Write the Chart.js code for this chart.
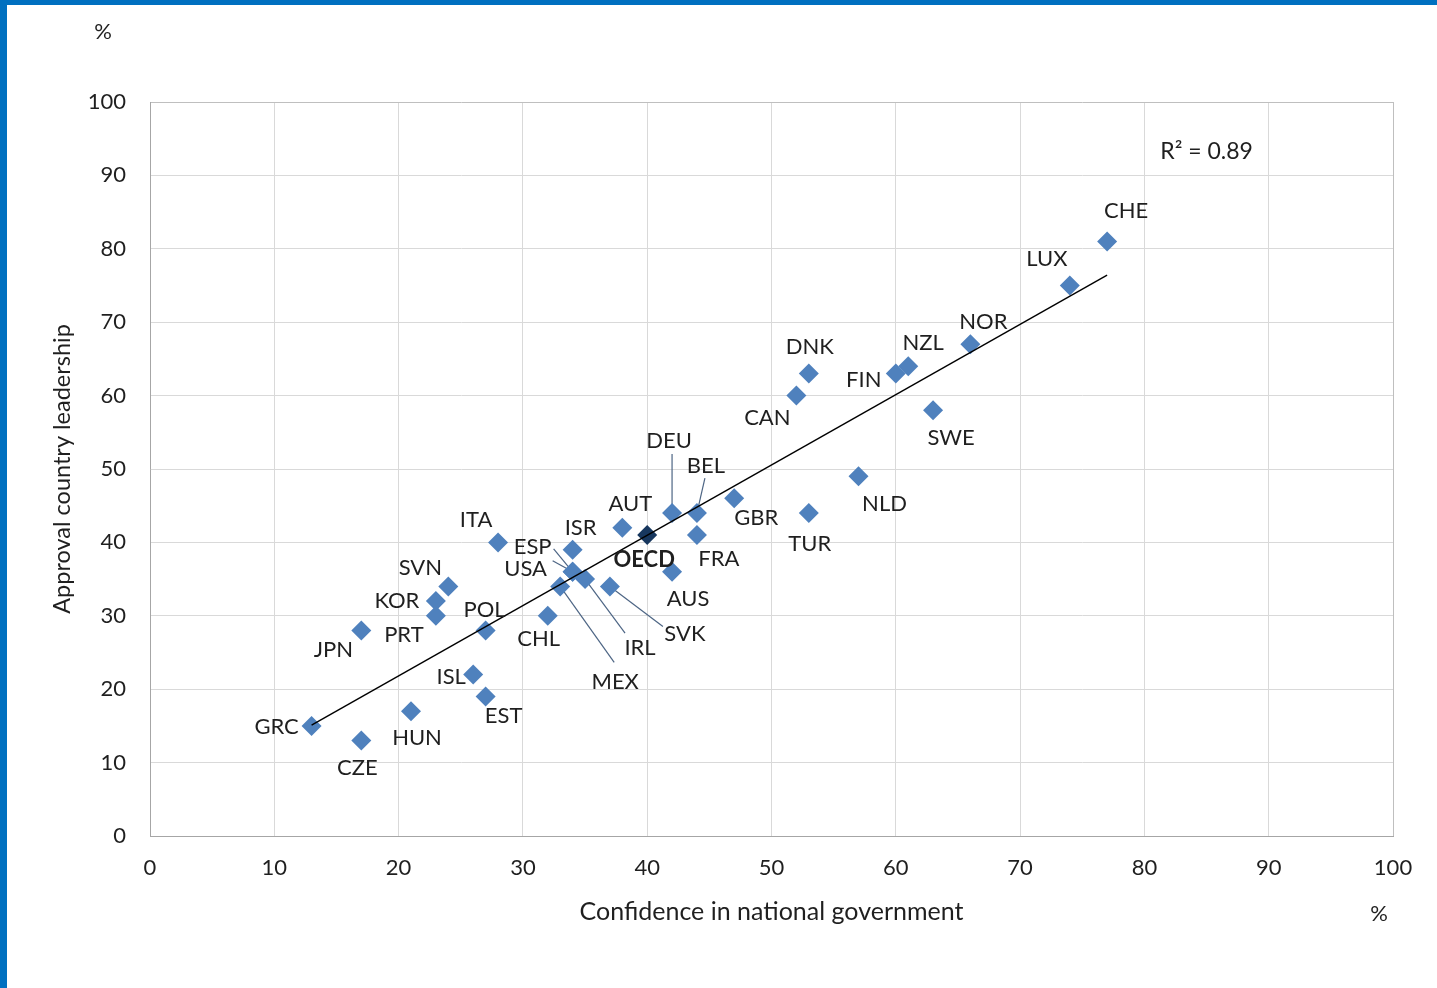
<!DOCTYPE html>
<html>
<head>
<meta charset="utf-8">
<script src="https://cdn.jsdelivr.net/npm/chart.js@4.4.0/dist/chart.umd.min.js"></script>
<style>
  html, body { margin: 0; padding: 0; background: #fff; }
  #wrap { position: relative; width: 1437px; height: 988px; }
  #frameLeft { position: absolute; left: 0; top: 0; width: 7px; height: 988px; background: #0070C0; }
  #frameTop { position: absolute; left: 0; top: 0; width: 1437px; height: 5px; background: #0070C0; }
</style>
</head>
<body>
<div id="wrap">
  <canvas id="myChart" width="1437" height="988"></canvas>
  <div id="frameLeft"></div>
  <div id="frameTop"></div>
</div>
<script>
// values
const countries = ['GRC', 'CZE', 'HUN', 'JPN', 'PRT', 'KOR', 'SVN', 'POL', 'ISL', 'EST',
                   'ITA', 'CHL', 'MEX', 'USA', 'ESP', 'IRL', 'SVK', 'ISR', 'AUT', 'AUS',
                   'DEU', 'BEL', 'FRA', 'GBR', 'TUR', 'CAN', 'DNK', 'FIN', 'NZL', 'NOR',
                   'SWE', 'NLD', 'LUX', 'CHE'];
const confidence = [13, 17, 21, 17, 23, 23, 24, 27, 26, 27,
                    28, 32, 33, 34, 34, 35, 37, 34, 38, 42,
                    42, 44, 44, 47, 53, 52, 53, 60, 61, 66,
                    63, 57, 74, 77];
const approval = [15, 13, 17, 28, 30, 32, 34, 28, 22, 19,
                  40, 30, 34, 36, 36, 35, 34, 39, 42, 36,
                  44, 44, 41, 46, 44, 60, 63, 63, 64, 67,
                  58, 49, 75, 81];
const oecdName = 'OECD';
const oecdX = [40];
const oecdY = [41];
// fitted line, ends as drawn in the picture
const trendX = [13, 77];
const trendY = [15.1, 76.4];
const r2Text = 'R\u00B2 = 0.89';
const axisTicks = [0, 10, 20, 30, 40, 50, 60, 70, 80, 90, 100];

// label placement (pixels from the marker centre)
const labelOffset = {
  GRC: [-35, 1], CZE: [-4, 27], HUN: [6, 27], JPN: [-28, 19], PRT: [-32, 19],
  KOR: [-39, 0], SVN: [-28, -19], POL: [-1, -21], ISL: [-22, 2], EST: [18, 19],
  ITA: [-22, -22], CHL: [-9, 23], MEX: [55, 95], USA: [-47, -3], ESP: [-40, -25],
  IRL: [55, 69], SVK: [75, 47], ISR: [8, -22], AUT: [8, -24], AUS: [16, 27],
  DEU: [-3, -72], BEL: [9, -47], FRA: [22, 24], GBR: [22, 20], TUR: [1, 31],
  CAN: [-29, 22], DNK: [1, -27], FIN: [-32, 6], NZL: [15, -23], NOR: [13, -22],
  SWE: [18, 28], NLD: [26, 28], LUX: [-23, -27], CHE: [19, -31]
};
const leaderStart = {
  ESP: [-19, -23], USA: [-20, -11], MEX: [54, 76], IRL: [40, 54],
  SVK: [53, 40], DEU: [0, -59], BEL: [8, -35]
};
const oecdOffset = [-3, 25];

const fontName = 'Lato, "Open Sans", sans-serif';
const textColor = '#1f1f1f';

function toPoints(xs, ys)
{
    let pts = [];
    for (let i = 0; i < xs.length; i++)
    {
        pts.push({x: xs[i], y: ys[i]});
    }
    return pts;
}

const labelPlugin = {
    id: 'countryLabels',
    beforeDatasetsDraw(chart) {
        const ctx = chart.ctx;
        const meta = chart.getDatasetMeta(1);
        ctx.save();
        ctx.strokeStyle = '#4d6584';
        ctx.lineWidth = 1.2;
        countries.forEach(function (c, i) {
            const lead = leaderStart[c];
            if (!lead) return;
            const p = meta.data[i];
            ctx.beginPath();
            ctx.moveTo(p.x + lead[0], p.y + lead[1]);
            ctx.lineTo(p.x, p.y);
            ctx.stroke();
        });
        ctx.restore();
    },
    afterDatasetsDraw(chart) {
        const ctx = chart.ctx;
        const meta = chart.getDatasetMeta(1);
        ctx.save();
        ctx.fillStyle = textColor;
        ctx.textAlign = 'center';
        ctx.textBaseline = 'middle';
        ctx.font = '22px ' + fontName;
        countries.forEach(function (c, i) {
            const off = labelOffset[c];
            const p = meta.data[i];
            ctx.fillText(c, p.x + off[0], p.y + off[1]);
        });
        const o = chart.getDatasetMeta(2).data[0];
        ctx.font = 'bold 22px ' + fontName;
        ctx.fillText(oecdName, o.x + oecdOffset[0], o.y + oecdOffset[1]);

        const xs = chart.scales.x, ys = chart.scales.y;
        ctx.font = '23px ' + fontName;
        ctx.fillText(r2Text, xs.getPixelForValue(85), ys.getPixelForValue(93.3));
        ctx.restore();
    },
    afterDraw(chart) {
        const ctx = chart.ctx;
        const a = chart.chartArea;
        ctx.save();
        ctx.fillStyle = textColor;
        ctx.textAlign = 'center';
        ctx.textBaseline = 'middle';
        ctx.font = '22px ' + fontName;
        ctx.fillText('%', a.left - 47, a.top - 70);
        ctx.fillText('%', a.right - 14, a.bottom + 78);
        ctx.restore();
    }
};

function gridColor(context)
{
    if (context.tick && context.tick.value === 100) return '#BFBFBF';
    return '#D9D9D9';
}

const ctx = document.getElementById('myChart');
const myChart = new Chart(ctx, {
    type: 'scatter',
    data: {
        datasets: [{
            label: 'Trend',
            data: toPoints(trendX, trendY),
            showLine: true,
            borderColor: '#000000',
            borderWidth: 1.4,
            pointRadius: 0,
            order: 0
        }, {
            label: 'Countries',
            data: toPoints(confidence, approval),
            pointStyle: 'rectRot',
            pointRadius: 10,
            pointHoverRadius: 10,
            backgroundColor: '#4F81BD',
            borderColor: '#4F81BD',
            borderWidth: 0,
            order: 2
        }, {
            label: 'OECD',
            data: toPoints(oecdX, oecdY),
            pointStyle: 'rectRot',
            pointRadius: 10,
            pointHoverRadius: 10,
            backgroundColor: '#17375E',
            borderColor: '#17375E',
            borderWidth: 0,
            order: 1
        }]
    },
    options: {
        responsive: false,
        animation: false,
        devicePixelRatio: 1,
        layout: {
            padding: {left: 40, top: 102, right: 44, bottom: 50}
        },
        plugins: {
            legend: {display: false},
            tooltip: {enabled: false}
        },
        scales: {
            x: {
                type: 'linear',
                min: 0,
                max: 100,
                afterBuildTicks: function (scale) {
                    scale.ticks = axisTicks.map(function (v) { return {value: v}; });
                },
                afterFit: function (scale) { scale.height = 102; },
                ticks: {
                    font: {family: fontName, size: 22},
                    color: textColor,
                    padding: 19,
                    maxRotation: 0
                },
                grid: {color: gridColor, drawTicks: false, lineWidth: 1},
                border: {color: '#A6A6A6', width: 1},
                title: {
                    display: true,
                    text: 'Confidence in national government',
                    font: {family: fontName, size: 25},
                    color: textColor,
                    padding: {top: 0, bottom: 11}
                }
            },
            y: {
                type: 'linear',
                min: 0,
                max: 100,
                afterBuildTicks: function (scale) {
                    scale.ticks = axisTicks.map(function (v) { return {value: v}; });
                },
                afterFit: function (scale) { scale.width = 110; },
                ticks: {
                    font: {family: fontName, size: 22},
                    color: textColor,
                    padding: 24
                },
                grid: {color: gridColor, drawTicks: false, lineWidth: 1},
                border: {color: '#A6A6A6', width: 1},
                title: {
                    display: true,
                    text: 'Approval country leadership',
                    font: {family: fontName, size: 23.5},
                    color: textColor,
                    padding: {top: 8, bottom: 0}
                }
            }
        }
    },
    plugins: [labelPlugin]
});
</script>
</body>
</html>
